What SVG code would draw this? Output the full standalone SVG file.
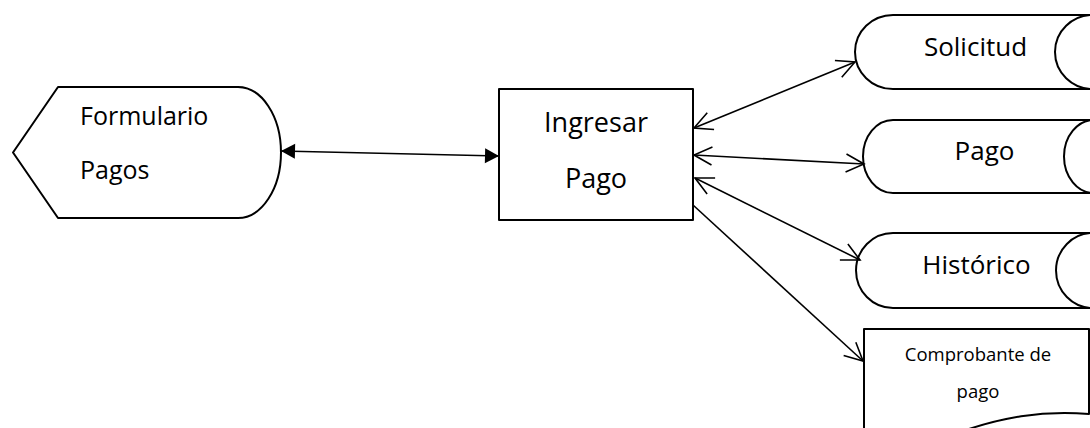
<svg xmlns="http://www.w3.org/2000/svg" width="1090" height="428" viewBox="0 0 1090 428">
<style>
.shape{fill:#fff;stroke:#000;stroke-width:2;stroke-linejoin:round}
.conn{fill:none;stroke:#000;stroke-width:1.6}
.t{font-family:"Open Sans","Noto Sans","Liberation Sans",sans-serif;fill:#000}
.big{font-size:26px}
.mid{text-anchor:middle}
.small{font-size:18.5px}
</style>
<defs>
<marker id="filled" markerUnits="userSpaceOnUse" markerWidth="16" markerHeight="17" refX="14" refY="7.5" orient="auto-start-reverse" overflow="visible">
<path d="M0,0 L14,7.5 L0,15 Z" fill="#000"/>
</marker>
<marker id="open" markerUnits="userSpaceOnUse" markerWidth="20" markerHeight="20" refX="18" refY="9" orient="auto-start-reverse" overflow="visible">
<path d="M0,0 L18,9 L0,18" fill="none" stroke="#000" stroke-width="1.6"/>
</marker>
</defs>
<rect width="1090" height="428" fill="#fff"/>
<g id="formulario-pagos">
<path class="shape" d="M13,152.5 L58,87 H238 A43,65.5 0 0 1 238,218 H58 Z"/>
<text class="t" font-size="25" x="80" y="125">Formulario</text>
<text class="t" font-size="25" x="80" y="179">Pagos</text>
</g>
<g id="ingresar-pago">
<rect class="shape" x="499" y="89" width="194" height="131"/>
<text class="t mid" font-size="27" x="596" y="132">Ingresar</text>
<text class="t mid" font-size="27" x="596" y="188">Pago</text>
</g>
<g id="solicitud">
<path class="shape" d="M893,15 H1093 A38,37 0 0 1 1093,89 H893 A38,37 0 0 1 893,15 Z"/>
<path class="shape" fill="none" d="M1093,15 A38,37 0 0 0 1093,89"/>
<text class="t big mid" x="975.5" y="56">Solicitud</text>
</g>
<g id="pago">
<path class="shape" d="M893,120 H1094 A30,36.5 0 0 1 1094,193 H893 A30,36.5 0 0 1 893,120 Z"/>
<path class="shape" fill="none" d="M1094,120 A30,36.5 0 0 0 1094,193"/>
<text class="t big mid" x="984.5" y="160">Pago</text>
</g>
<g id="historico">
<path class="shape" d="M893,233 H1093 A37,37.5 0 0 1 1093,308 H893 A37,37.5 0 0 1 893,233 Z"/>
<path class="shape" fill="none" d="M1093,233 A37,37.5 0 0 0 1093,308"/>
<text class="t big mid" x="976.5" y="274">Histórico</text>
</g>
<g id="comprobante-de-pago">
<path class="shape" d="M864,329 H1089 V414 C1040,410 1000,418 960,432 L864,440 Z"/>
<text class="t small mid" x="978" y="361">Comprobante de</text>
<text class="t small mid" x="978" y="398">pago</text>
</g>
<g id="connectors">
<line class="conn" x1="281" y1="151" x2="499" y2="156" marker-start="url(#filled)" marker-end="url(#filled)"/>
<line class="conn" x1="694" y1="128" x2="855" y2="62" marker-start="url(#open)" marker-end="url(#open)"/>
<line class="conn" x1="694" y1="155" x2="864" y2="164" marker-start="url(#open)" marker-end="url(#open)"/>
<line class="conn" x1="695" y1="178" x2="860" y2="260" marker-start="url(#open)" marker-end="url(#open)"/>
<line class="conn" x1="693" y1="205" x2="863" y2="361" marker-end="url(#open)"/>
</g>
</svg>
